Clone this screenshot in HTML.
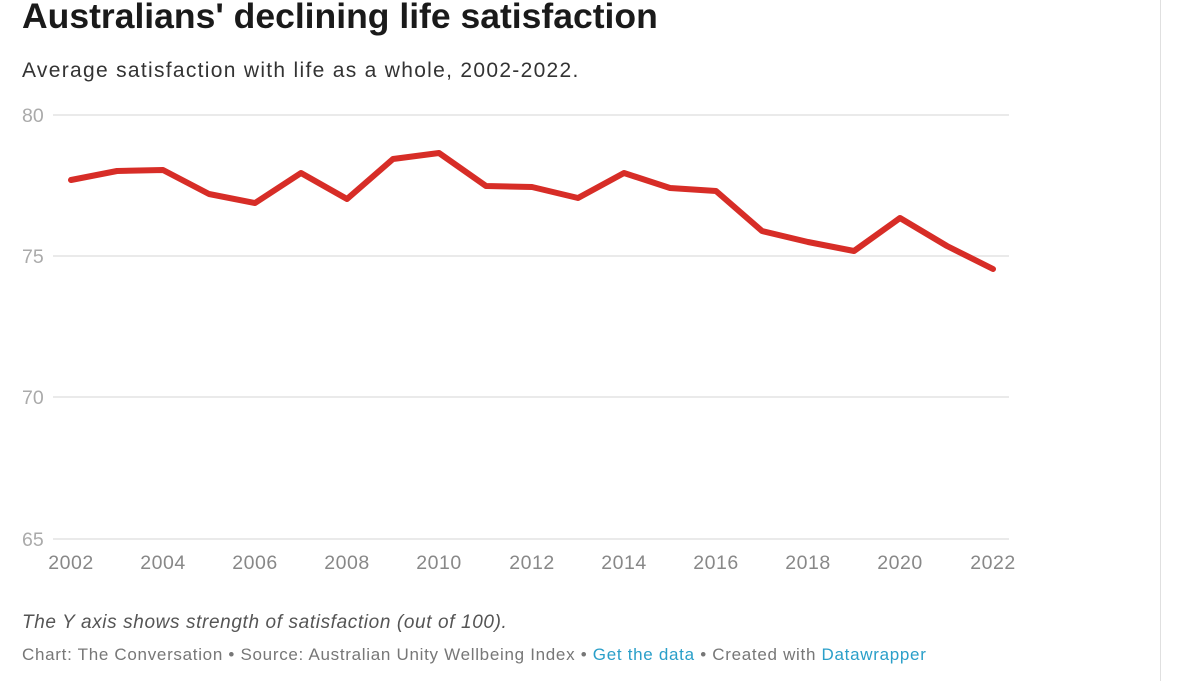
<!DOCTYPE html>
<html><head><meta charset="utf-8"><style>
body{margin:0;width:1179px;height:681px;background:#fff;overflow:hidden;font-family:"Liberation Sans",sans-serif;position:relative}
.t{position:absolute;left:22px;top:-4px;font-size:35.5px;font-weight:bold;color:#1a1a1a;letter-spacing:0px;white-space:nowrap}
.s{position:absolute;left:22px;top:59px;font-size:21px;color:#333;letter-spacing:1.3px;white-space:nowrap}
.n{position:absolute;left:22px;top:612px;font-size:19px;font-style:italic;color:#555;letter-spacing:0.62px;white-space:nowrap}
.f{position:absolute;left:22px;top:645px;font-size:17px;color:#777;letter-spacing:0.7px;white-space:nowrap}
.f a{color:#2a9fc9;text-decoration:none}
.vr{position:absolute;left:1160px;top:0;width:1px;height:681px;background:#e0e0e0}
</style></head><body>
<div class="t">Australians' declining life satisfaction</div>
<div class="s">Average satisfaction with life as a whole, 2002-2022.</div>
<div class="vr"></div>
<svg width="1179" height="681" style="position:absolute;left:0;top:0" font-family="Liberation Sans, sans-serif">
<g stroke="#e3e3e3" stroke-width="1.5">
<line x1="53" x2="1009" y1="115" y2="115"/><line x1="53" x2="1009" y1="256" y2="256"/>
<line x1="53" x2="1009" y1="397" y2="397"/><line x1="53" x2="1009" y1="539" y2="539"/>
</g>
<g fill="#aaa" font-size="19.5">
<text x="22" y="122">80</text><text x="22" y="263">75</text><text x="22" y="404">70</text><text x="22" y="546">65</text>
</g>
<g fill="#888" font-size="19.5" text-anchor="middle" letter-spacing="0.5">
<text x="71" y="569">2002</text><text x="163" y="569">2004</text><text x="255" y="569">2006</text><text x="347" y="569">2008</text><text x="439" y="569">2010</text><text x="532" y="569">2012</text><text x="624" y="569">2014</text><text x="716" y="569">2016</text><text x="808" y="569">2018</text><text x="900" y="569">2020</text><text x="993" y="569">2022</text>
</g>
<polyline fill="none" stroke="#d72d27" stroke-width="6" stroke-linejoin="round" stroke-linecap="round"
points="71,180 117,171 163,170 209,194 255,203 301,173 347,199 393,159 439,153 486,186 532,187 578,198 624,173 670,188 716,191 762,231 808,242 854,251 900,218 947,246 993,269"/>
</svg>
<div class="n">The Y axis shows strength of satisfaction (out of 100).</div>
<div class="f">Chart: The Conversation • Source: Australian Unity Wellbeing Index • <a>Get the data</a> • Created with <a>Datawrapper</a></div>
</body></html>
